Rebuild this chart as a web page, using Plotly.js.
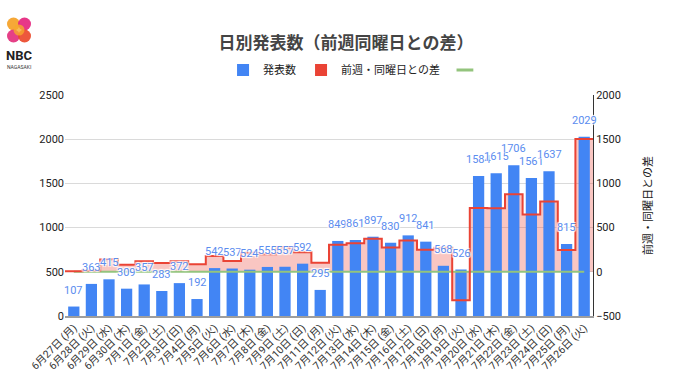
<!DOCTYPE html>
<html>
<head>
<meta charset="utf-8">
<script src="https://cdn.plot.ly/plotly-3.0.1.min.js"></script>
<style>html,body{margin:0;padding:0;background:#fff;}#chart{width:680px;height:382px;}</style>
</head>
<body>
<div id="chart"></div>
<script>
const dates = ["6月27日 (月)","6月28日 (火)","6月29日 (水)","6月30日 (木)","7月1日 (金)","7月2日 (土)","7月3日 (日)","7月4日 (月)","7月5日 (火)","7月6日 (水)","7月7日 (木)","7月8日 (金)","7月9日 (土)","7月10日 (日)","7月11日 (月)","7月12日 (火)","7月13日 (水)","7月14日 (木)","7月15日 (金)","7月16日 (土)","7月17日 (日)","7月18日 (月)","7月19日 (火)","7月20日 (水)","7月21日 (木)","7月22日 (金)","7月23日 (土)","7月24日 (日)","7月25日 (月)","7月26日 (火)"];
const counts = [107,363,415,309,357,283,372,192,542,537,524,555,557,592,295,849,861,897,830,912,841,568,526,1584,1615,1706,1561,1637,815,2029];
const diffs = [5,15,140,80,120,100,120,85,179,122,215,198,274,220,103,307,324,373,275,355,249,273,-323,723,718,876,649,796,247,1503];
const baseline = [0,0,0,0,0,0,0,0,0,0,0,0,0,0,0,0,0,0,0,0,0,0,0,0,0,0,0,0,0,0];
const seriesNames = ["発表数","前週・同曜日との差"];
const rightTitle = "前週・同曜日との差";
const chartTitle = "日別発表数（前週同曜日との差）";

const FONT = 'Roboto, "Noto Sans CJK JP", "Noto Sans", sans-serif';
const idx = dates.map((d,i)=>i);
// step line: each category spans from i-0.5 to i+0.5
const stepX = idx.map(i=>i-0.5).concat([dates.length-0.5]);
const stepY = diffs.concat([diffs[diffs.length-1]]);

const BLUE='#4285f4', RED='#ea4335', GREEN='#93c47d';

const traces = [
  {type:'scatter', x:stepX, y:stepY, yaxis:'y2', mode:'lines', line:{shape:'hv', width:0, color:RED},
   fill:'tozeroy', fillcolor:'rgba(234,67,53,0.30)', showlegend:false, hoverinfo:'skip'},
  {type:'bar', x:idx, y:counts, yaxis:'y', name:seriesNames[0], marker:{color:BLUE}, width:0.64},
  {type:'bar', x:[null], y:[null], yaxis:'y3', name:seriesNames[1], marker:{color:RED}},
  {type:'scatter', x:idx, y:baseline, yaxis:'y3', mode:'lines', line:{color:GREEN, width:2}, showlegend:false},
  {type:'scatter', x:stepX, y:stepY, yaxis:'y3', mode:'lines', line:{shape:'hv', width:2, color:RED}, showlegend:false},
  {type:'scatter', x:[null], y:[null], yaxis:'y3', mode:'markers', name:' ',
   marker:{symbol:'line-ew', size:12, line:{color:GREEN, width:3}, color:GREEN}}
];

// pixel helpers for decorative logo (plot area: x 65..593, y 95..316)
const px = v => (v-65)/528;
const py = v => (316-v)/221;
const circ = (cx, cy, r, col, op) => ({type:'circle', xref:'paper', yref:'paper',
  x0:px(cx-r), x1:px(cx+r), y0:py(cy+r), y1:py(cy-r), fillcolor:col, line:{width:0}, opacity:op});

const shapes = [
  circ(13.5, 24, 6.5, '#f5a32c', 0.95),
  circ(24.5, 24, 6.5, '#e5267e', 0.92),
  circ(13.5, 36, 6.5, '#e3307d', 0.92),
  circ(24.5, 36, 6.5, '#eb4a2b', 0.92),
  circ(19, 30, 5.5, '#f6a92c', 0.8)
];

const halo = '1px 1px 1px #fff, -1px -1px 1px #fff, 1px -1px 1px #fff, -1px 1px 1px #fff';
const annotations = counts.map((v,i)=>({
  x:i, y:v, xref:'x', yref:'y', text:String(v), showarrow:false, yanchor:'bottom', yshift:8,
  font:{family:FONT, size:11, color:'#5b8def', shadow:halo}
}));
annotations.push({xref:'paper', yref:'paper', x:px(19), y:py(56), xanchor:'center', yanchor:'middle',
  text:'<b>NBC</b>', showarrow:false, font:{family:FONT, size:13, color:'#222'}});
annotations.push({xref:'paper', yref:'paper', x:px(19), y:py(66.5), xanchor:'center', yanchor:'middle',
  text:'NAGASAKI', showarrow:false, font:{family:FONT, size:5, color:'#333'}});

const layout = {
  width:680, height:382,
  margin:{l:65, r:87, t:95, b:66},
  paper_bgcolor:'#fff', plot_bgcolor:'#fff',
  font:{family:FONT, color:'#333', size:11},
  title:{text:chartTitle, x:346/680, xref:'container', xanchor:'center', y:1-43/382, yanchor:'middle',
    font:{family:FONT, size:17, color:'#444', weight:'bold'}},
  barmode:'overlay',
  showlegend:true,
  legend:{orientation:'h', x:0.555, xanchor:'center', y:py(70), yanchor:'middle',
    font:{family:FONT, size:11, color:'#222'}, bgcolor:'rgba(0,0,0,0)'},
  xaxis:{range:[-0.5, dates.length-0.5], tickvals:idx, ticktext:dates, tickangle:-45,
    showgrid:false, zeroline:false, showline:true, linecolor:'#9e9e9e', linewidth:1.5, ticks:'',
    tickfont:{family:FONT, size:10.5, color:'#333'}, anchor:'y2', fixedrange:true},
  yaxis2:{side:'right', range:[-500,2000], dtick:500, showgrid:true, gridcolor:'#dadada', zeroline:false,
    showline:true, linecolor:'#333', linewidth:1, ticks:'', tickfont:{family:FONT, size:11, color:'#222'},
    title:{text:rightTitle, standoff:24, font:{family:FONT, size:11, color:'#222'}}},
  yaxis:{overlaying:'y2', side:'left', range:[0,2500], dtick:500, showgrid:false, zeroline:false,
    showline:false, ticks:'', tickfont:{family:FONT, size:11, color:'#222'}},
  yaxis3:{overlaying:'y2', range:[-500,2000], visible:false},
  shapes:shapes,
  annotations:annotations
};

Plotly.newPlot('chart', traces, layout, {displayModeBar:false, staticPlot:true});
</script>
</body>
</html>
